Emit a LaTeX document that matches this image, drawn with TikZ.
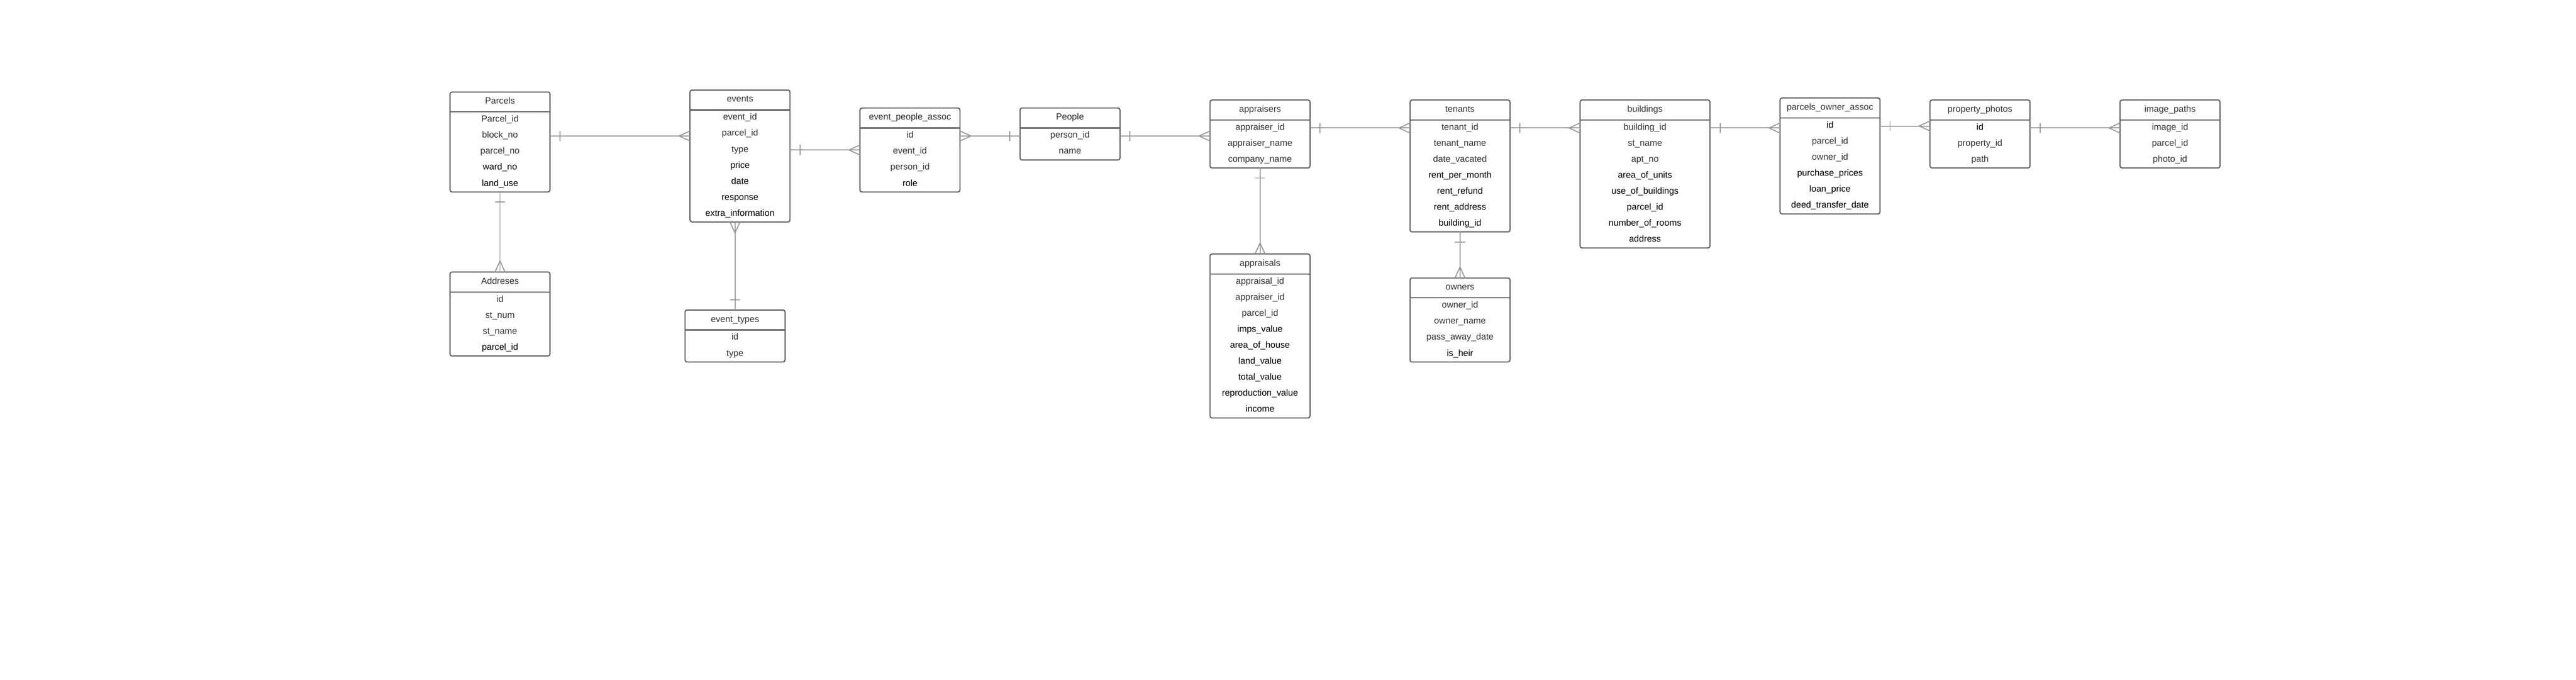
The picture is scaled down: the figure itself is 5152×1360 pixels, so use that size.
\documentclass[tikz,border=0pt]{standalone}
\usepackage{fontspec}
\setmainfont{Liberation Sans}
\usetikzlibrary{calc}
\definecolor{boxline}{HTML}{5E5E5E}
\definecolor{connline}{HTML}{999999}
\definecolor{txtg}{HTML}{333333}
\definecolor{txtk}{HTML}{000000}
\tikzset{
  tbl/.style={draw=boxline, line width=2.2pt, rounded corners=4pt, fill=white, inner sep=0pt, outer sep=0pt},
  sepline/.style={draw=boxline, line width=2.2pt},
  ttl/.style={text=txtg, inner sep=0pt, font=\fontsize{17.9}{20}\selectfont},
  fld/.style={inner sep=0pt, font=\fontsize{17.9}{20}\selectfont},
  conn/.style={draw=connline, line width=2pt},
}
\newcommand{\ertable}[7]{%
  \node[tbl, minimum width=#4pt, minimum height={(40+32*#5)*1pt}, anchor=north west] (#1) at (#2,#3) {};
  \draw[sepline] (#2,#3+40) -- (#2+#4,#3+40);
  \node[ttl, anchor=base] (#1-t) at (#2+#4/2,#3+24) {#6};
  \foreach \c/\t [count=\i] in {#7}{\node[fld, text=\c, anchor=base] (#1-\i) at (#2+#4/2,#3+28+32*\i) {\t};}
}
\newcommand{\erOneE}[1]{\draw[conn] ($(#1)+(20,-10)$) -- ($(#1)+(20,10)$);}
\newcommand{\erOneW}[1]{\draw[conn] ($(#1)+(-20,-10)$) -- ($(#1)+(-20,10)$);}
\newcommand{\erOneS}[1]{\draw[conn] ($(#1)+(-10,20)$) -- ($(#1)+(10,20)$);}
\newcommand{\erOneN}[1]{\draw[conn] ($(#1)+(-10,-20)$) -- ($(#1)+(10,-20)$);}
\newcommand{\erManyE}[1]{\draw[conn] ($(#1)+(0,-10)$) -- ($(#1)+(22,0)$) -- ($(#1)+(0,10)$);}
\newcommand{\erManyW}[1]{\draw[conn] ($(#1)+(0,-10)$) -- ($(#1)+(-22,0)$) -- ($(#1)+(0,10)$);}
\newcommand{\erManyS}[1]{\draw[conn] ($(#1)+(-10,0)$) -- ($(#1)+(0,22)$) -- ($(#1)+(10,0)$);}
\newcommand{\erManyN}[1]{\draw[conn] ($(#1)+(-10,0)$) -- ($(#1)+(0,-22)$) -- ($(#1)+(10,0)$);}
\begin{document}
\begin{tikzpicture}[x=1pt,y=-1pt]
\fill[white] (0,0) rectangle (5152,1360);
\useasboundingbox (0,0) rectangle (5152,1360);

% ---------- tables ----------
\ertable{parcels}{900}{184}{200}{5}{Parcels}{txtg/Parcel\_id, txtg/block\_no, txtg/parcel\_no, txtk/ward\_no, txtk/land\_use}
\ertable{addr}{900}{544}{200}{4}{Addreses}{txtg/id, txtg/st\_num, txtg/st\_name, txtk/parcel\_id}
\ertable{events}{1380}{180}{200}{7}{events}{txtg/event\_id, txtg/parcel\_id, txtg/type, txtk/price, txtk/date, txtk/response, txtk/extra\_information}
\ertable{evtypes}{1370}{620}{200}{2}{event\_types}{txtg/id, txtg/type}
\ertable{epa}{1720}{216}{200}{4}{event\_people\_assoc}{txtg/id, txtg/event\_id, txtg/person\_id, txtk/role}
\ertable{people}{2040}{216}{200}{2}{People}{txtg/person\_id, txtg/name}
\ertable{appraisers}{2420}{200}{200}{3}{appraisers}{txtg/appraiser\_id, txtg/appraiser\_name, txtg/company\_name}
\ertable{appraisals}{2420}{508}{200}{9}{appraisals}{txtg/appraisal\_id, txtg/appraiser\_id, txtg/parcel\_id, txtk/imps\_value, txtk/area\_of\_house, txtk/land\_value, txtk/total\_value, txtk/reproduction\_value, txtk/income}
\ertable{tenants}{2820}{200}{200}{7}{tenants}{txtg/tenant\_id, txtg/tenant\_name, txtg/date\_vacated, txtk/rent\_per\_month, txtk/rent\_refund, txtk/rent\_address, txtk/building\_id}
\ertable{owners}{2820}{556}{200}{4}{owners}{txtg/owner\_id, txtg/owner\_name, txtg/pass\_away\_date, txtk/is\_heir}
\ertable{buildings}{3160}{200}{260}{8}{buildings}{txtg/building\_id, txtg/st\_name, txtg/apt\_no, txtk/area\_of\_units, txtk/use\_of\_buildings, txtk/parcel\_id, txtk/number\_of\_rooms, txtk/address}
\ertable{poa}{3560}{196}{200}{6}{parcels\_owner\_assoc}{txtk/id, txtg/parcel\_id, txtg/owner\_id, txtk/purchase\_prices, txtk/loan\_price, txtk/deed\_transfer\_date}
\ertable{photos}{3860}{200}{200}{3}{property\_photos}{txtk/id, txtg/property\_id, txtg/path}
\ertable{paths}{4240}{200}{200}{3}{image\_paths}{txtg/image\_id, txtg/parcel\_id, txtg/photo\_id}

% ---------- connectors ----------
% Parcels -> events
\coordinate (p1) at ([yshift=12pt]parcels.east);
\coordinate (p2) at (p1 -| events.west);
\draw[conn] (p1) -- (p2); \erOneE{p1} \erManyW{p2}
% Parcels -> Addreses
\draw[conn] (parcels.south) -- (addr.north); \erOneS{parcels.south} \erManyN{addr.north}
% events -> event_types
\coordinate (q1) at (evtypes.north |- events.south);
\draw[conn] (q1) -- (evtypes.north); \erManyS{q1} \erOneN{evtypes.north}
% events -> event_people_assoc
\coordinate (r2) at (epa.west);
\coordinate (r1) at (r2 -| events.east);
\draw[conn] (r1) -- (r2); \erOneE{r1} \erManyW{r2}
% event_people_assoc -> People
\coordinate (s2) at ([yshift=-4pt]people.west);
\coordinate (s1) at (s2 -| epa.east);
\draw[conn] (s1) -- (s2); \erManyE{s1} \erOneW{s2}
% People -> appraisers
\coordinate (t1) at ([yshift=-4pt]people.east);
\coordinate (t2) at (t1 -| appraisers.west);
\draw[conn] (t1) -- (t2); \erOneE{t1} \erManyW{t2}
% appraisers -> appraisals
\draw[conn] (appraisers.south) -- (appraisals.north); \erOneS{appraisers.south} \erManyN{appraisals.north}
% appraisers -> tenants
\coordinate (u1) at ([yshift=12pt]appraisers.east);
\coordinate (u2) at (u1 -| tenants.west);
\draw[conn] (u1) -- (u2); \erOneE{u1} \erManyW{u2}
% tenants -> owners
\draw[conn] (tenants.south) -- (owners.north); \erOneS{tenants.south} \erManyN{owners.north}
% tenants -> buildings
\coordinate (v1) at ([yshift=76pt]tenants.east);
\coordinate (v2) at (v1 -| buildings.west);
\draw[conn] (v1) -- (v2); \erOneE{v1} \erManyW{v2}
% buildings -> parcels_owner_assoc
\coordinate (w1) at ([yshift=92pt]buildings.east);
\coordinate (w2) at (w1 -| poa.west);
\draw[conn] (w1) -- (w2); \erOneE{w1} \erManyW{w2}
% parcels_owner_assoc -> property_photos
\coordinate (x1) at ([yshift=60pt]poa.east);
\coordinate (x2) at (x1 -| photos.west);
\draw[conn] (x1) -- (x2); \erOneE{x1} \erManyW{x2}
% property_photos -> image_paths
\coordinate (y1) at ([yshift=12pt]photos.east);
\coordinate (y2) at (y1 -| paths.west);
\draw[conn] (y1) -- (y2); \erOneE{y1} \erManyW{y2}
\end{tikzpicture}
\end{document}
